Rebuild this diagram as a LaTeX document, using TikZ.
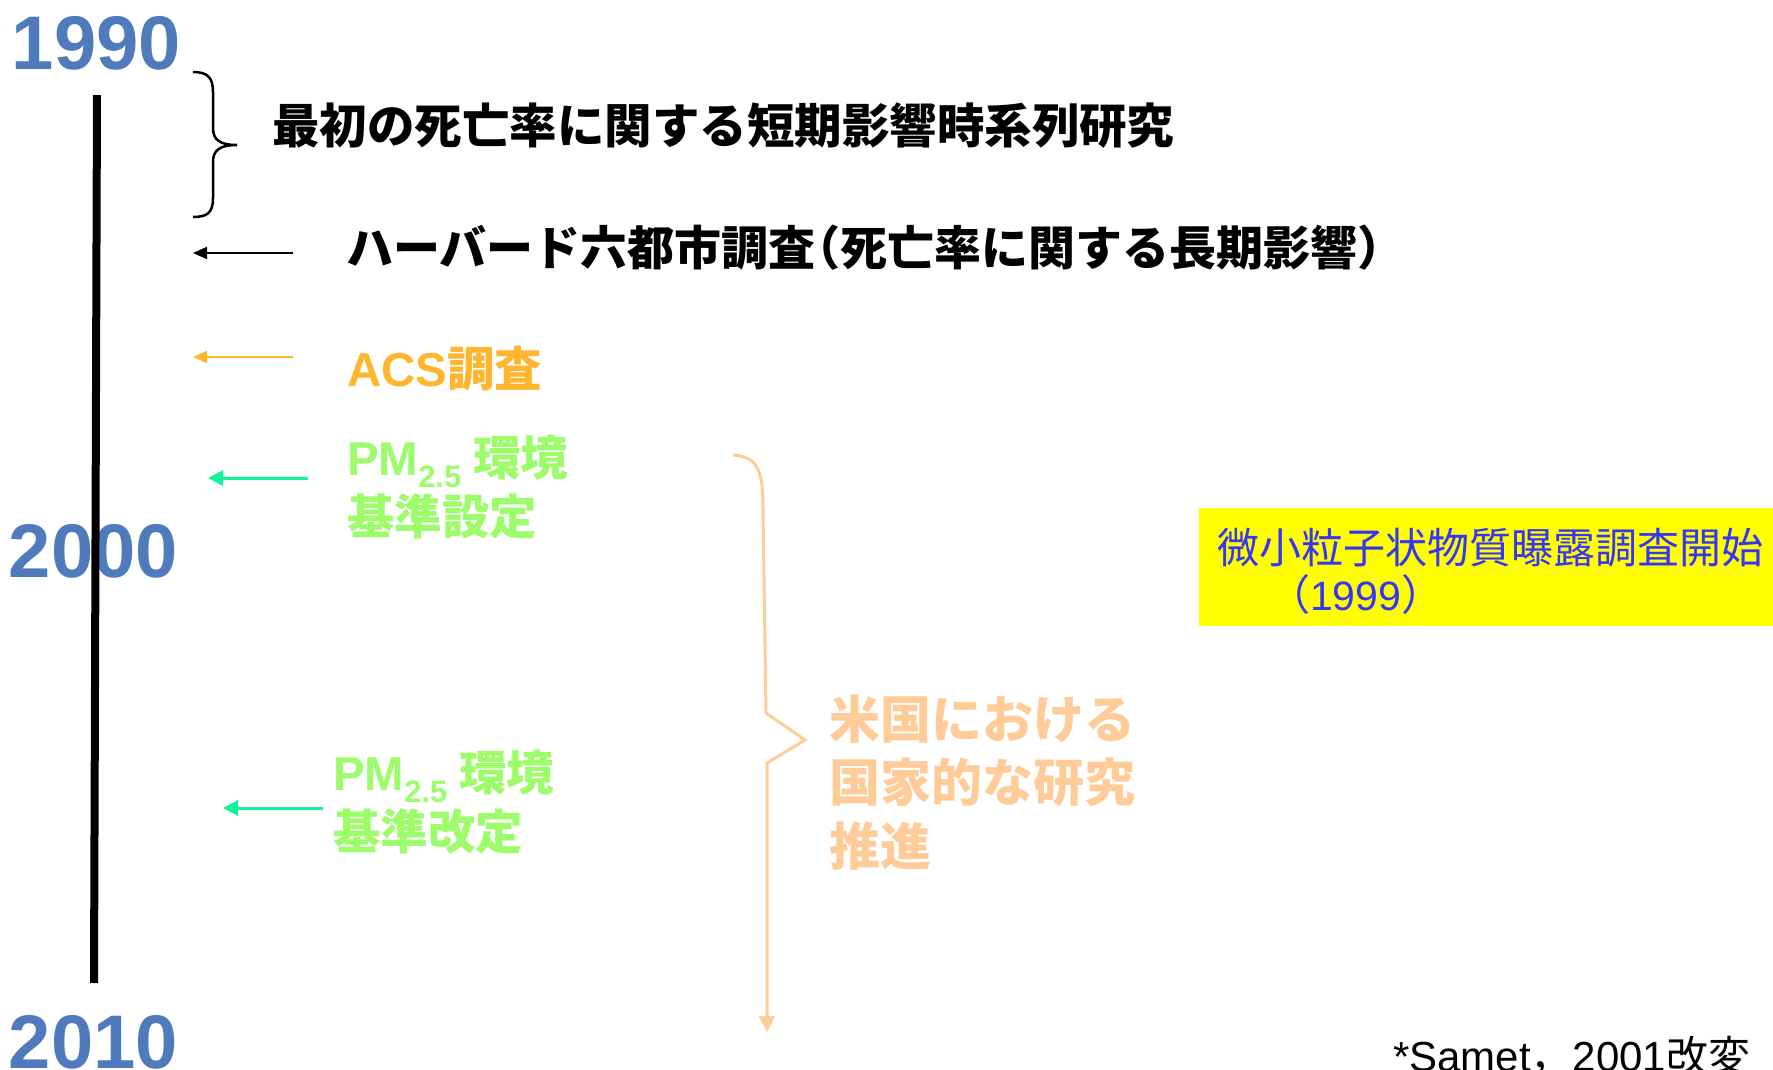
\documentclass[tikz,border=0pt]{standalone}
\usepackage{fontspec}
\setmainfont{Liberation Sans}
\newfontfamily\jp{Noto Sans CJK JP}
\usetikzlibrary{arrows.meta}
\definecolor{yearblue}{HTML}{4F7BBD}
\definecolor{acsorange}{HTML}{FFB52D}
\definecolor{arrgreen}{HTML}{10F59A}
\definecolor{txtgreen}{HTML}{9CFC6A}
\definecolor{peach}{HTML}{FFCC99}
\definecolor{boxyellow}{HTML}{FFFF00}
\definecolor{txtblue}{HTML}{3535F8}
\tikzset{
  txt/.style={inner sep=0pt, outer sep=0pt, anchor=base west},
  yearlbl/.style={txt, text=yearblue, font=\bfseries\fontsize{76}{80}\selectfont},
  jpbig/.style={txt, font=\jp\bfseries\fontsize{47.5}{50}\selectfont},
  peachtxt/.style={txt, text=peach, font=\jp\bfseries\fontsize{51}{53}\selectfont},
  bluetxt/.style={txt, text=txtblue, font=\jp\fontsize{42}{44}\selectfont},
  greentxt/.style={txt, text=txtgreen, font=\bfseries\fontsize{47.5}{50}\selectfont},
  blackarr/.style={line width=2pt, -{Triangle[length=14pt,width=12pt]}},
  orangearr/.style={line width=2pt, acsorange, -{Triangle[length=14pt,width=12pt]}},
  greenarr/.style={line width=3pt, arrgreen, -{Triangle[length=15pt,width=15pt]}},
}
\newcommand{\pmsub}{{\bfseries PM}\raisebox{-12pt}{\fontsize{31}{31}\selectfont\bfseries 2.5}\hspace{12pt}{\jp\bfseries 環境}}
\begin{document}
\begin{tikzpicture}[x=1pt,y=-1pt]
\useasboundingbox (0,0) rectangle (1773,1070);
\fill[white] (0,0) rectangle (1773,1070);

% years
\node[yearlbl] (y1990) at (12,70) {1990};
\node[yearlbl] (y2000) at (9,577) {2000};
\node[yearlbl] (y2010) at (9,1068) {2010};

% timeline
\coordinate (ltop) at (97,95);
\coordinate (lbot) at (94,983);
\draw[line width=8pt] (ltop) -- (lbot);

% black brace
\draw[line width=2.5pt] (193,72) .. controls (207,72) and (213,77) .. (213,92) -- (213,128)
  .. controls (213,140) and (220,145) .. (237,145)
  .. controls (220,145) and (213,150) .. (213,162) -- (213,198)
  .. controls (213,213) and (207,217) .. (193,217);

\node[jpbig] (t1) at (272,144) {最初の死亡率に関する短期影響時系列研究};

% Harvard
\coordinate (a1s) at (293,253);
\coordinate (a1e) at (193,253);
\draw[blackarr] (a1s) -- (a1e);
\node[jpbig, font=\jp\bfseries\fontsize{47}{50}\selectfont] (t2) at (346,265) {ハーバード六都市調査\kern-22pt（死亡率に関する長期影響）};

% ACS
\coordinate (a2s) at (293,357);
\coordinate (a2e) at (193,357);
\draw[orangearr] (a2s) -- (a2e);
\node[txt, text=acsorange, font=\bfseries\fontsize{47.5}{50}\selectfont] (t3) at (347,386) {ACS{\jp 調査}};

% PM2.5 set
\coordinate (a3s) at (308,478);
\coordinate (a3e) at (208,478);
\draw[greenarr] (a3s) -- (a3e);
\node[greentxt] (t4a) at (347,475) {\pmsub};
\node[greentxt] (t4b) at (347,534) {{\jp 基準設定}};

% PM2.5 revise
\coordinate (a4s) at (323,808);
\coordinate (a4e) at (223,808);
\draw[greenarr] (a4s) -- (a4e);
\node[greentxt] (t5a) at (333,790) {\pmsub};
\node[greentxt] (t5b) at (333,849) {{\jp 基準改定}};

% peach brace arrow
\coordinate (pb0) at (733,455);
\coordinate (pb1) at (763,510);
\coordinate (pb2) at (766,713);
\coordinate (pbtip) at (805,740);
\coordinate (pb3) at (767,763);
\coordinate (pbend) at (767,1032);
\draw[peach, line width=3pt, line join=miter, -{Triangle[length=16pt,width=16pt]}]
  (pb0) .. controls (758,457) and (763,470) .. (pb1) -- (pb2) -- (pbtip) -- (pb3) -- (pbend);
\node[peachtxt] (p1) at (829,738) {米国における};
\node[peachtxt] (p2) at (829,801) {国家的な研究};
\node[peachtxt] (p3) at (829,865) {推進};

% yellow box
\fill[boxyellow] (1199,508) rectangle (1773,626);
\node[bluetxt] (b1) at (1217,563) {微小粒子状物質曝露調査開始};
\node[bluetxt] (b2) at (1268,610) {（{\rmfamily\fontsize{41}{43}\selectfont 1999}）};

% footnote
\node[txt, font=\fontsize{42}{44}\selectfont] (fn) at (1393,1071) {*Samet{\jp ，}2001{\jp 改変}};
\end{tikzpicture}
\end{document}
